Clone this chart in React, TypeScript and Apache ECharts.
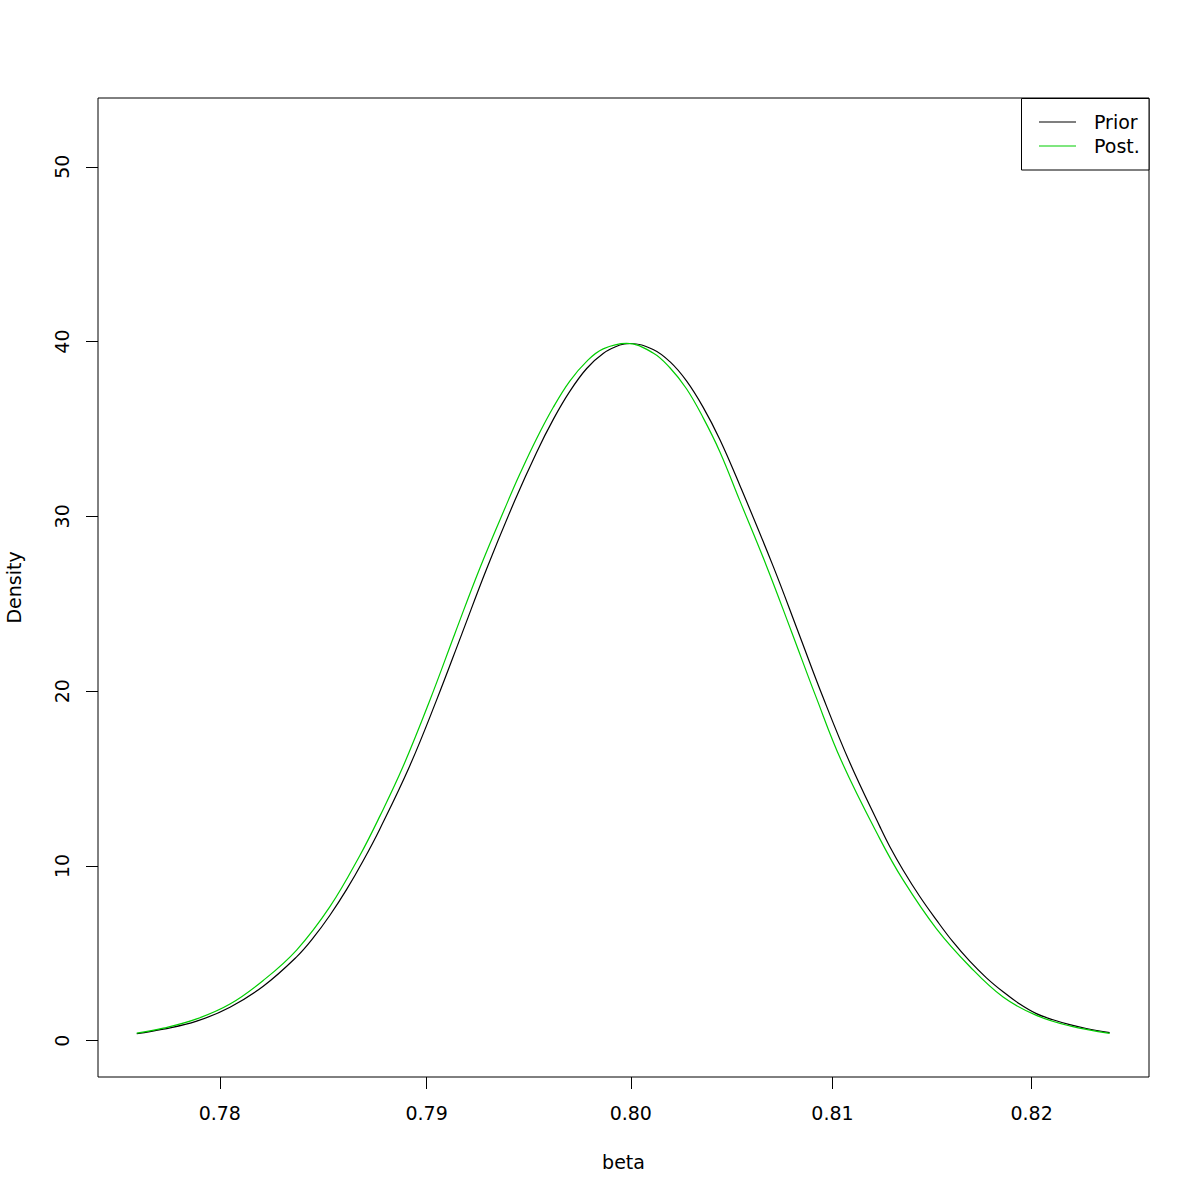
import React, { useEffect, useRef } from "react";
import * as echarts from "echarts";

// Prior density (black) (x axis is logarithmic)
const priorX = [
  0.77602, 0.77729, 0.77889, 0.78049, 0.78209, 0.7837, 0.7845, 0.78531, 0.78612, 0.78692,
  0.78773, 0.78919, 0.79049, 0.79171, 0.79293, 0.79431, 0.79537, 0.79619, 0.797, 0.79783,
  0.79864, 0.79946, 0.79996, 0.8011, 0.80193, 0.80275, 0.80357, 0.8044, 0.80539, 0.80705,
  0.80829, 0.80953, 0.81087, 0.81237, 0.81287, 0.81353, 0.81437, 0.81521, 0.81604, 0.81688,
  0.81772, 0.81856, 0.8194, 0.82024, 0.82108, 0.82193, 0.82277, 0.82395,
];
const priorY = [
  0.4, 0.66, 1.12, 1.92, 3.12, 4.8, 5.88, 7.18, 8.66, 10.3,
  12.12, 15.75, 19.5, 23.25, 27.0, 30.92, 33.66, 35.55, 37.15, 38.46,
  39.32, 39.8, 39.89, 39.55, 38.85, 37.75, 36.25, 34.4, 31.78, 27.14,
  23.4, 19.65, 15.9, 12.25, 11.1, 9.77, 8.25, 6.9, 5.65, 4.55,
  3.6, 2.8, 2.1, 1.55, 1.2, 0.92, 0.7, 0.46,
];

// Posterior density (green)
const postX = [
  0.77602, 0.77729, 0.77889, 0.78049, 0.78209, 0.7837, 0.78531, 0.78676, 0.78773, 0.78886,
  0.79016, 0.79138, 0.7926, 0.79398, 0.79455, 0.79537, 0.79619, 0.797, 0.79783, 0.79864,
  0.79979, 0.8011, 0.80193, 0.80275, 0.80357, 0.8044, 0.80539, 0.80672, 0.80796, 0.80917,
  0.81045, 0.81237, 0.81353, 0.81521, 0.81688, 0.81856, 0.82024, 0.82193, 0.82395,
];
const postY = [
  0.44, 0.72, 1.25, 2.1, 3.45, 5.19, 7.67, 10.6, 12.85, 15.7,
  19.48, 23.3, 27.05, 30.9, 32.42, 34.44, 36.24, 37.74, 38.87, 39.58,
  39.9, 39.35, 38.5, 37.3, 35.65, 33.7, 30.9, 27.15, 23.4, 19.7,
  16.0, 11.55, 9.2, 6.4, 4.25, 2.5, 1.45, 0.85, 0.42,
];

const xTicks = [0.78, 0.79, 0.8, 0.81, 0.82];
const yTicks = [0, 10, 20, 30, 40, 50];
const legendNames = ["Prior", "Post."];
const seriesColors = ["#000000", "#00CD00"];

const FONT = "DejaVu Sans";

export default function App() {
  const ref = useRef<HTMLDivElement>(null);
  useEffect(() => {
    document.body.style.margin = "0";
    const chart = echarts.init(ref.current!, null, { renderer: "svg" });
    const prior = priorX.map((x, i) => [x, priorY[i]]);
    const post = postX.map((x, i) => [x, postY[i]]);
    chart.setOption({
      animation: false,
      backgroundColor: "#ffffff",
      textStyle: { fontFamily: FONT },
      grid: {
        left: 98,
        right: 51,
        top: 98,
        bottom: 123,
        containLabel: false,
        outerBoundsMode: "none",
        show: true,
        borderColor: "#000",
        borderWidth: 1,
        backgroundColor: "transparent",
      },
      xAxis: {
        type: "log",
        logBase: Math.E,
        min: 0.77417,
        max: 0.82595,
        name: "beta",
        nameLocation: "middle",
        nameGap: 75,
        nameTextStyle: { fontFamily: FONT, fontSize: 19, color: "#000" },
        axisLine: { show: false, onZero: false },
        splitLine: { show: false },
        minorTick: { show: false },
        axisTick: {
          show: true,
          inside: false,
          length: 12,
          customValues: xTicks,
          lineStyle: { color: "#000", width: 1 },
        },
        axisLabel: {
          customValues: xTicks,
          margin: 26,
          fontFamily: FONT,
          fontSize: 19,
          color: "#000",
          formatter: (v: number) => Number(v).toFixed(2),
        },
      },
      yAxis: {
        type: "value",
        min: -2.074,
        max: 53.934,
        name: "Density",
        nameLocation: "middle",
        nameRotate: 90,
        nameGap: 75,
        nameTextStyle: { fontFamily: FONT, fontSize: 19, color: "#000" },
        axisLine: { show: false, onZero: false },
        splitLine: { show: false },
        axisTick: {
          show: true,
          inside: false,
          length: 12,
          customValues: yTicks,
          lineStyle: { color: "#000", width: 1 },
        },
        axisLabel: {
          customValues: yTicks,
          rotate: 90,
          margin: 27,
          fontFamily: FONT,
          fontSize: 19,
          color: "#000",
          formatter: (v: number) => String(v),
        },
      },
      series: [
        {
          name: legendNames[0],
          type: "line",
          data: prior,
          smooth: 0.4,
          showSymbol: false,
          symbol: "none",
          lineStyle: { color: seriesColors[0], width: 1.2 },
          z: 3,
        },
        {
          name: legendNames[1],
          type: "line",
          data: post,
          smooth: 0.4,
          showSymbol: false,
          symbol: "none",
          lineStyle: { color: seriesColors[1], width: 1.2 },
          z: 4,
        },
      ],
      graphic: [
        {
          type: "rect",
          shape: { x: 1021.5, y: 98.5, width: 127.5, height: 71.5 },
          style: { fill: "#fff", stroke: "#000", lineWidth: 1 },
          z: 10,
        },
        {
          type: "line",
          shape: { x1: 1039, y1: 122, x2: 1076, y2: 122 },
          style: { stroke: seriesColors[0], lineWidth: 1.2 },
          z: 11,
        },
        {
          type: "line",
          shape: { x1: 1039, y1: 146, x2: 1076, y2: 146 },
          style: { stroke: seriesColors[1], lineWidth: 1.2 },
          z: 11,
        },
        {
          type: "text",
          x: 1094,
          y: 122,
          style: {
            text: legendNames[0],
            font: `19px "${FONT}"`,
            fill: "#000",
            verticalAlign: "middle",
            align: "left",
          },
          z: 11,
        },
        {
          type: "text",
          x: 1094,
          y: 146,
          style: {
            text: legendNames[1],
            font: `19px "${FONT}"`,
            fill: "#000",
            verticalAlign: "middle",
            align: "left",
          },
          z: 11,
        },
      ],
    });
    return () => chart.dispose();
  }, []);
  return <div ref={ref} style={{ width: 1200, height: 1200 }} />;
}
